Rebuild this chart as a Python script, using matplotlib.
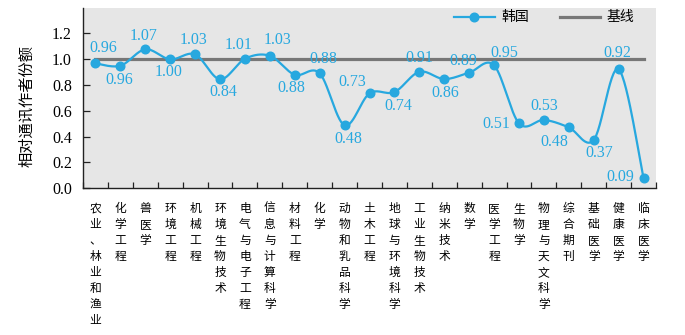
import numpy as np
import matplotlib
matplotlib.use("Agg")
import matplotlib.pyplot as plt
from matplotlib.lines import Line2D

# ---------------- data ----------------
categories = ["农业、林业和渔业", "化学工程", "兽医学", "环境工程", "机械工程",
              "环境生物技术", "电气与电子工程", "信息与计算科学", "材料工程", "化学",
              "动物和乳品科学", "土木工程", "地球与环境科学", "工业生物技术", "纳米技术",
              "数学", "医学工程", "生物学", "物理与天文科学", "综合期刊",
              "基础医学", "健康医学", "临床医学"]
values = [0.967, 0.949, 1.076, 0.998, 1.037, 0.844, 1.003, 1.026, 0.879, 0.890,
          0.488, 0.735, 0.745, 0.902, 0.846, 0.895, 0.952, 0.503, 0.529, 0.472,
          0.374, 0.921, 0.082]
value_labels = ["0.96", "0.96", "1.07", "1.00", "1.03", "0.84", "1.01", "1.03", "0.88", "0.88",
                "0.48", "0.73", "0.74", "0.91", "0.86", "0.89", "0.95", "0.51", "0.53", "0.48",
                "0.37", "0.92", "0.09"]
baseline = 1.0
series_name = "韩国"
baseline_name = "基线"
y_label = "相对通讯作者份额"
y_ticks = [0.0, 0.2, 0.4, 0.6, 0.8, 1.0, 1.2]

# ---------------- style ----------------
label_offsets = [(8, 15), (-1, -14), (-1.5, 13), (-1.5, -12.5), (-1.5, 14), (3.5, -12.5),
                 (-6, 13.5), (8, 15.5), (-3, -13.5), (3.5, 14), (4, -13.5), (-17, 11),
                 (4, -13.5), (0, 13.5), (1, -13.5), (-6, 12), (10, 12), (-23, -1),
                 (0, 13.5), (-14, -15), (6, -13.5), (-1, 16), (-23, 1)]
blue = "#27a8df"
gray_line = "#777777"
bg = "#e6e6e6"
cjk = ["Noto Sans CJK SC", "DejaVu Sans"]
serif = ["Liberation Serif", "DejaVu Serif"]


def catmull_rom(x, y, steps=30):
    x = np.asarray(x, float)
    y = np.asarray(y, float)
    px = np.concatenate([[x[0]], x, [x[-1]]])
    py = np.concatenate([[y[0]], y, [y[-1]]])
    out_x, out_y = [], []
    t = np.linspace(0, 1, steps)
    for i in range(1, len(px) - 2):
        p0x, p1x, p2x, p3x = px[i - 1], px[i], px[i + 1], px[i + 2]
        p0y, p1y, p2y, p3y = py[i - 1], py[i], py[i + 1], py[i + 2]
        c1x, c1y = p1x + (p2x - p0x) / 6, p1y + (p2y - p0y) / 6
        c2x, c2y = p2x - (p3x - p1x) / 6, p2y - (p3y - p1y) / 6
        bx = (1 - t) ** 3 * p1x + 3 * (1 - t) ** 2 * t * c1x + 3 * (1 - t) * t ** 2 * c2x + t ** 3 * p2x
        by = (1 - t) ** 3 * p1y + 3 * (1 - t) ** 2 * t * c1y + 3 * (1 - t) * t ** 2 * c2y + t ** 3 * p2y
        out_x.extend(bx if i == 1 else bx[1:])
        out_y.extend(by if i == 1 else by[1:])
    return np.array(out_x), np.array(out_y)


fig = plt.figure(figsize=(6.85, 3.35), dpi=100)
ax = fig.add_axes([83 / 685, 1 - 188.3 / 335, 573 / 685, 180.3 / 335])
ax.set_facecolor(bg)

n = len(categories)
xs = np.arange(n)

# baseline
ax.plot([xs[0], xs[-1]], [baseline, baseline], color=gray_line, lw=2.3, zorder=2)

# smooth series line + markers
sx, sy = catmull_rom(xs, values)
ax.plot(sx, sy, color=blue, lw=1.6, zorder=3, solid_capstyle="round")
ax.plot(xs, values, "o", color=blue, ms=6.2, zorder=4)

# data labels
for x, v, lab, (dx, dy) in zip(xs, values, value_labels, label_offsets):
    ax.annotate(lab, (x, v), xytext=(dx, dy), textcoords="offset pixels",
                ha="center", va="center", color=blue, fontsize=11.5,
                family=serif, zorder=5)

ax.set_xlim(-0.5, n - 0.5)
ax.set_ylim(0, 1.396)
ax.set_yticks(y_ticks)
ax.set_yticklabels([f"{t:.1f}" for t in y_ticks], family=serif, fontsize=11.5)
ax.tick_params(axis="y", direction="in", length=5, width=0.9, color="#222222", pad=8)

ax.set_xticks(xs)
ax.set_xticklabels(["\n".join(c) for c in categories], family=cjk, fontsize=8.5,
                   linespacing=1.3, va="top")
ax.tick_params(axis="x", which="major", length=0, pad=10)
ax.set_xticks(np.arange(-0.5, n, 1.0), minor=True)
ax.tick_params(axis="x", which="minor", direction="in", length=4, width=0.9, color="#222222")

for s in ["top", "right"]:
    ax.spines[s].set_visible(False)
for s in ["left", "bottom"]:
    ax.spines[s].set_color("#222222")
    ax.spines[s].set_linewidth(1.0)

ax.set_ylabel(y_label, family=cjk, fontsize=11)
ax.yaxis.set_label_coords(-0.083, 0.455)

handles = [Line2D([], [], color=blue, lw=1.6, marker="o", ms=6.2),
           Line2D([], [], color=gray_line, lw=2.3)]
ax.legend(handles, [series_name, baseline_name], ncol=2, frameon=False,
          loc="center right", bbox_to_anchor=(0.975, 0.948),
          prop={"family": cjk, "size": 10}, handlelength=2.9, handletextpad=0.5,
          columnspacing=2.2, borderpad=0)

fig.savefig("out.png", dpi=100, facecolor="white")
